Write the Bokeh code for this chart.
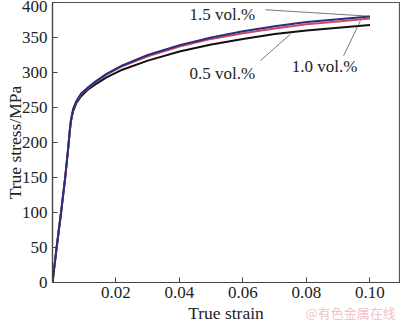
from bokeh.plotting import figure
from bokeh.models import Label, FixedTicker, Range1d, ColumnDataSource, LinearAxis
from bokeh.embed import file_html
from bokeh.resources import INLINE

# Data
strain = [0, 0.0013, 0.0027, 0.004, 0.0049, 0.0054, 0.0058, 0.0065, 0.0075, 0.009,
          0.011, 0.0135, 0.017, 0.022, 0.03, 0.04, 0.05, 0.06, 0.07, 0.08, 0.09, 0.1]
stress_05 = [0, 50, 100, 150, 190, 214, 230, 245, 256, 266,
             275, 283, 293, 304, 317, 330, 340, 348, 355, 360, 364, 368]
stress_10 = [0, 50, 100, 150, 190, 215, 231, 247, 258, 269,
             277, 286, 297, 309, 323, 337, 348, 356, 363, 369, 373, 377]
stress_15 = [0, 50, 100, 150, 190, 215, 232, 248, 259, 270,
             278, 287, 298, 310, 325, 339, 350, 359, 366, 372, 376, 380]
series_labels = ["0.5 vol.%", "1.0 vol.%", "1.5 vol.%"]
x_ticks = [0.02, 0.04, 0.06, 0.08, 0.10]
x_tick_labels = ["0.02", "0.04", "0.06", "0.08", "0.10"]
y_ticks = [0, 50, 100, 150, 200, 250, 300, 350, 400]
watermark = "@有色金属在线"

SERIF = "Liberation Serif"
FS = "17px"

p = figure(width=400, height=325, output_backend="svg", toolbar_location=None,
           x_range=Range1d(0, 0.1093), y_range=Range1d(0, 400),
           min_border_left=52, min_border_right=1, min_border_top=2, min_border_bottom=43)
p.background_fill_color = "white"
p.border_fill_color = "white"
p.grid.visible = False
p.outline_line_color = "#555555"
p.outline_line_width = 1.2

for ax in (p.xaxis[0], p.yaxis[0]):
    ax.major_tick_in = 5
    ax.major_tick_out = 0
    ax.minor_tick_in = 0
    ax.minor_tick_out = 0
    ax.axis_line_color = "#444444"
    ax.axis_line_width = 1.2
    ax.major_tick_line_color = "#444444"
    ax.major_label_text_font = SERIF
    ax.major_label_text_font_size = FS
    ax.major_label_text_color = "#222222"
    ax.axis_label_text_font = SERIF
    ax.axis_label_text_font_size = "17.5px"
    ax.axis_label_text_font_style = "normal"
    ax.axis_label_text_color = "#222222"
    ax.axis_label_standoff = 0

p.xaxis.ticker = FixedTicker(ticks=x_ticks)
p.xaxis.major_label_overrides = {t: l for t, l in zip(x_ticks, x_tick_labels)}
p.xaxis.major_label_standoff = 4
p.xaxis.axis_label_standoff = 2
p.xaxis.axis_label = "True strain"
p.yaxis.ticker = FixedTicker(ticks=y_ticks)
p.yaxis.major_label_standoff = 5
p.yaxis.axis_label_standoff = -6
p.yaxis.axis_label = "True stress/MPa"

# watermark carried by an extra, line-less axis below the main one
wm_axis = LinearAxis(ticker=FixedTicker(ticks=[0.0939]),
                     major_label_overrides={0.0939: watermark},
                     axis_line_color=None, major_tick_line_color=None,
                     minor_tick_line_color=None,
                     major_label_text_font="Noto Sans CJK SC",
                     major_label_text_font_size="13px",
                     major_label_text_color="#f2c4c8",
                     major_label_standoff=-29)
p.add_layout(wm_axis, "below")

p.line(strain, stress_05, line_color="#111111", line_width=2)
p.line(strain, stress_10, line_color="#cc4a5e", line_width=2)
p.line(strain, stress_15, line_color="#2b2d80", line_width=2)

# annotations
def lab(text, x, y):
    p.add_layout(Label(x=x, y=y, text=text, text_font=SERIF, text_font_size=FS,
                       text_color="#222222", text_align="center", text_baseline="middle"))

lab(series_labels[2], 0.0535, 383)
lab(series_labels[0], 0.0535, 299)
lab(series_labels[1], 0.0857, 308)

seg = ColumnDataSource(dict(x0=[0.0671, 0.0655, 0.0917], y0=[389.6, 317, 324],
                            x1=[0.0998, 0.0750, 0.0970], y1=[380.4, 355, 374]))
p.segment(x0="x0", y0="y0", x1="x1", y1="y1", source=seg, line_color="#555555", line_width=0.8)

open("out.html", "w").write(file_html(p, INLINE))
